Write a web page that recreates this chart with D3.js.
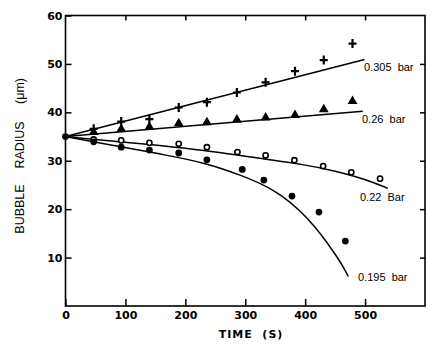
<!DOCTYPE html>
<html>
<head>
<meta charset="utf-8">
<script src="https://cdn.jsdelivr.net/npm/d3@7"></script>
<style>
  body { margin: 0; background: #fff; }
  svg { display: block; }
</style>
</head>
<body>
<div id="chart"></div>
<script>
var plusT   = [0, 47, 93, 140, 189, 236, 286, 334, 383, 431, 479],
    plusR   = [35, 36.6, 38.1, 38.6, 41.0, 42.1, 44.1, 46.2, 48.5, 50.8, 54.2];
var triT    = [47, 93, 140, 189, 236, 286, 334, 383, 431, 479],
    triR    = [35.9, 36.5, 37.0, 37.7, 37.9, 38.5, 38.9, 39.4, 40.6, 42.3];
var openT   = [47, 93, 140, 189, 236, 287, 334, 382, 430, 477, 525],
    openR   = [34.4, 34.2, 33.7, 33.5, 32.8, 31.8, 31.1, 30.1, 28.9, 27.6, 26.3];
var dotT    = [0, 47, 93, 140, 189, 236, 295, 331, 378, 423, 467],
    dotR    = [35, 33.9, 32.8, 32.2, 31.6, 30.2, 28.2, 26.0, 22.7, 19.4, 13.4];

// fitted curves
var fit305T = [0, 499],           fit305R = [35, 50.9];
var fit26T  = [0, 496],           fit26R  = [35, 40.2];
var fit22T  = [0, 91, 200, 308, 400, 450, 500, 538],
    fit22R  = [35, 33.9, 32.7, 30.8, 29.2, 27.9, 26.2, 24.3];
var fit195T = [0, 91, 163, 236, 291, 347, 403, 458, 472],
    fit195R = [35, 32.9, 31.3, 29.5, 27.1, 24.3, 18.8, 9.5, 6.1];

var curveLabels = ["0.305  bar", "0.26  bar", "0.22  Bar", "0.195  bar"];
var xTicks = [0, 100, 200, 300, 400, 500],
    yTicks = [10, 20, 30, 40, 50, 60];

var width = 440, height = 354;

var svg = d3.select("#chart").append("svg")
  .attr("width", width)
  .attr("height", height);

var x = d3.scaleLinear().domain([0, 600]).range([65.5, 425]),
    y = d3.scaleLinear().domain([0, 60]).range([306, 15.5]);

var tickFont = "'DejaVu Sans', sans-serif";

function styleAxis(g, showLabels) {
  g.select(".domain").remove();
  g.selectAll(".tick line").attr("stroke", "#000").attr("stroke-width", 1.5);
  g.selectAll(".tick text")
    .attr("fill", "#000")
    .style("font-family", tickFont)
    .style("font-weight", "bold")
    .style("font-size", "11px");
  if (!showLabels) g.selectAll(".tick text").remove();
}

svg.append("g")
  .attr("transform", "translate(0," + y(0) + ")")
  .call(d3.axisBottom(x).tickValues(xTicks).tickSizeInner(-7).tickSizeOuter(0).tickPadding(5))
  .call(styleAxis, true);

svg.append("g")
  .attr("transform", "translate(0," + y(60) + ")")
  .call(d3.axisTop(x).tickValues(xTicks.slice(1)).tickSizeInner(-5).tickSizeOuter(0))
  .call(styleAxis, false);

svg.append("g")
  .attr("transform", "translate(" + x(0) + ",0)")
  .call(d3.axisLeft(y).tickValues(yTicks).tickSizeInner(-6).tickSizeOuter(0).tickPadding(3))
  .call(styleAxis, true);

svg.append("g")
  .attr("transform", "translate(" + x(600) + ",0)")
  .call(d3.axisRight(y).tickValues(yTicks.slice(0, 5)).tickSizeInner(-5).tickSizeOuter(0))
  .call(styleAxis, false);

// frame
svg.append("rect")
  .attr("x", x(0)).attr("y", y(60))
  .attr("width", x(600) - x(0))
  .attr("height", y(0) - y(60))
  .attr("fill", "none")
  .attr("stroke", "#000")
  .attr("stroke-width", 1.6);

// fitted curves
var line = d3.line()
  .x(function(d) { return x(d[0]); })
  .y(function(d) { return y(d[1]); })
  .curve(d3.curveBasis);

var fits = [[fit305T, fit305R], [fit26T, fit26R], [fit22T, fit22R], [fit195T, fit195R]];
fits.forEach(function(f) {
  svg.append("path")
    .attr("d", line(d3.zip(f[0], f[1])))
    .attr("fill", "none")
    .attr("stroke", "#000")
    .attr("stroke-width", 1.5);
});

// markers
svg.selectAll(".plus")
  .data(d3.zip(plusT, plusR).slice(1))
  .enter().append("path")
  .attr("transform", function(d) { return "translate(" + x(d[0]) + "," + y(d[1]) + ")"; })
  .attr("d", "M-4,0H4M0,-4.5V4.5")
  .attr("stroke", "#000")
  .attr("stroke-width", 2.2);

svg.selectAll(".tri")
  .data(d3.zip(triT, triR))
  .enter().append("path")
  .attr("transform", function(d) { return "translate(" + x(d[0]) + "," + y(d[1]) + ")"; })
  .attr("d", d3.symbol().type(d3.symbolTriangle).size(42))
  .attr("fill", "#000");

svg.selectAll(".open")
  .data(d3.zip(openT, openR))
  .enter().append("circle")
  .attr("cx", function(d) { return x(d[0]); })
  .attr("cy", function(d) { return y(d[1]); })
  .attr("r", 2.6)
  .attr("fill", "#fff")
  .attr("stroke", "#000")
  .attr("stroke-width", 1.6);

svg.selectAll(".dot")
  .data(d3.zip(dotT, dotR))
  .enter().append("circle")
  .attr("cx", function(d) { return x(d[0]); })
  .attr("cy", function(d) { return y(d[1]); })
  .attr("r", 3.4)
  .attr("fill", "#000");

// curve labels at the end of each fit
var labelPos = [[364, 71], [362, 123], [360, 201], [358, 281]];
curveLabels.forEach(function(t, i) {
  svg.append("text")
    .attr("x", labelPos[i][0])
    .attr("y", labelPos[i][1])
    .attr("xml:space", "preserve")
    .style("font-family", "'Liberation Sans', Arial, sans-serif")
    .style("font-size", "11px")
    .attr("fill", "#000")
    .text(t);
});

// axis titles
svg.append("text")
  .attr("x", 251)
  .attr("y", 338)
  .attr("text-anchor", "middle")
  .attr("xml:space", "preserve")
  .style("font-family", tickFont)
  .style("font-weight", "bold")
  .style("font-size", "11px")
  .style("letter-spacing", "1px")
  .attr("fill", "#000")
  .text("TIME  (S)");

var yTitle = [["BUBBLE", 209], ["RADIUS", 145], ["(\u03bcm)", 91]];
yTitle.forEach(function(w) {
  svg.append("text")
    .attr("transform", "translate(24," + w[1] + ") rotate(-90)")
    .attr("text-anchor", "middle")
    .style("font-family", "'Liberation Sans', Arial, sans-serif")
    .style("font-size", "12.5px")
    .attr("fill", "#000")
    .text(w[0]);
});
</script>
</body>
</html>
